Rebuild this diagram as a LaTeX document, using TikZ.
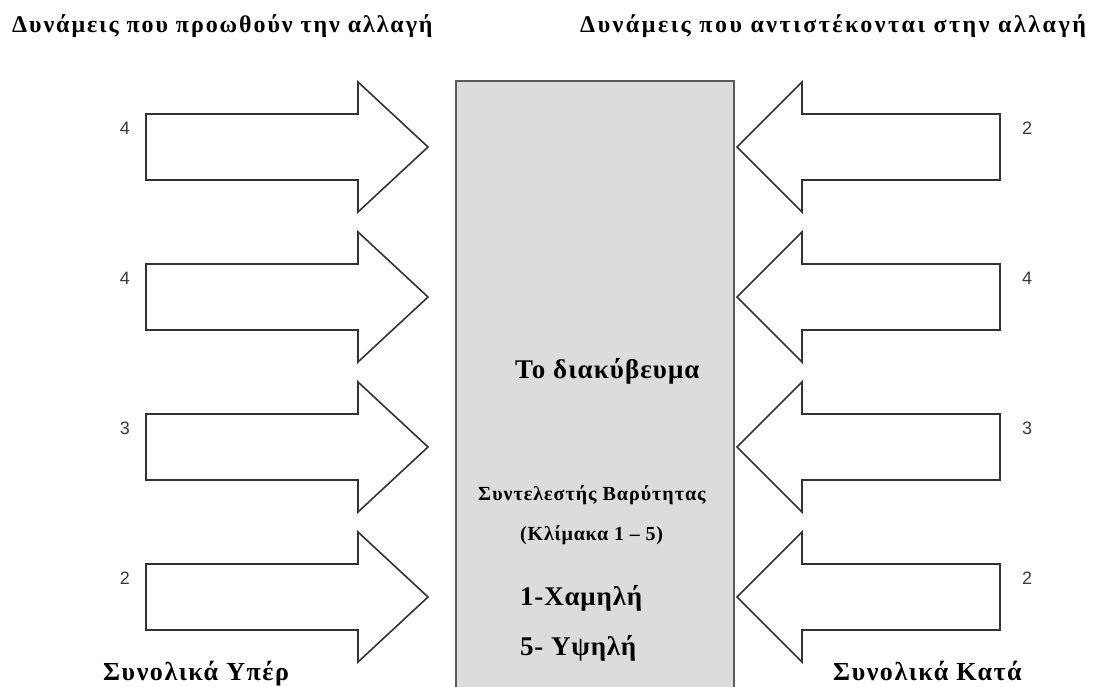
\documentclass[tikz,border=0pt]{standalone}
\usepackage{fontspec}
\setmainfont{Liberation Serif}
\newfontfamily\numfont{Liberation Sans}
\newfontfamily\headfont[LetterSpace=8]{Liberation Serif}
\newfontfamily\wideheadfont[LetterSpace=10.5]{Liberation Serif}
\newfontfamily\midfont[LetterSpace=4]{Liberation Serif}
\newfontfamily\smallfont[LetterSpace=5]{Liberation Serif}
\newfontfamily\rangefont[LetterSpace=4]{Liberation Serif}
\newfontfamily\levelfont[LetterSpace=3]{Liberation Serif}
\newfontfamily\totalfont[LetterSpace=6]{Liberation Serif}
\definecolor{boxfill}{HTML}{DCDCDC}
\definecolor{boxedge}{HTML}{5A5A5A}
\definecolor{arrowedge}{HTML}{333333}
\definecolor{numcol}{HTML}{3A3A3A}
\begin{document}
\begin{tikzpicture}[x=1pt,y=-1pt,
  txt/.style={inner sep=0pt, anchor=base west},
  title/.style={txt, font=\headfont\fontsize{24}{24}\selectfont\bfseries},
  wide title/.style={txt, font=\wideheadfont\fontsize{24}{24}\selectfont\bfseries},
  stake/.style={txt, font=\midfont\fontsize{27}{27}\selectfont\bfseries},
  scale label/.style={txt, font=\smallfont\fontsize{20}{20}\selectfont\bfseries},
  range label/.style={txt, font=\rangefont\fontsize{20}{20}\selectfont\bfseries},
  level/.style={txt, font=\levelfont\fontsize{27}{27}\selectfont\bfseries},
  total/.style={txt, font=\totalfont\fontsize{26}{26}\selectfont\bfseries},
  weight/.style={font=\numfont\fontsize{18}{18}\selectfont, text=numcol, inner sep=0pt},
  force/.style={draw=arrowedge, line width=1.6pt, fill=white, line join=miter}]
\useasboundingbox (0,0) rectangle (1099,687);

% central box, running off the bottom edge
\fill[boxfill] (456,81) rectangle (734,687);
\draw[boxedge, line width=1.3pt] (456,687) -- (456,81) -- (734,81) -- (734,687);

% forces for the change (left) and against it (right)
\foreach \c/\n [count=\i] in {147/4, 297/4, 447/3, 597/2} {
  \draw[force] (146,{\c-33}) -- (358,{\c-33}) -- (358,{\c-65}) -- (428,\c)
     -- (358,{\c+65}) -- (358,{\c+33}) -- (146,{\c+33}) -- cycle;
  \node[weight] (wl\i) at (125,{\c-19}) {\n};
}
\foreach \c/\n [count=\i] in {147/2, 297/4, 447/3, 597/2} {
  \draw[force] (1000,{\c-33}) -- (802,{\c-33}) -- (802,{\c-65}) -- (737,\c)
     -- (802,{\c+65}) -- (802,{\c+33}) -- (1000,{\c+33}) -- cycle;
  \node[weight] (wr\i) at (1027,{\c-19}) {\n};
}

% headings
\node[title] (pro) at (12,33) {Δυνάμεις που προωθούν την αλλαγή};
\node[wide title] (con) at (580,33) {Δυνάμεις που αντιστέκονται στην αλλαγή};

% texts in the box
\node[stake] (stake) at (515,378) {Το διακύβευμα};
\node[scale label] (coef) at (478,500) {Συντελεστής Βαρύτητας};
\node[range label] (range) at (520,540) {(Κλίμακα 1 – 5)};
\node[level] (low) at (520,605) {1-Χαμηλή};
\node[level] (high) at (520,655) {5- Υψηλή};

% totals
\node[total] (sumpro) at (103,680) {Συνολικά Υπέρ};
\node[total] (sumcon) at (833,680) {Συνολικά Κατά};
\end{tikzpicture}
\end{document}
